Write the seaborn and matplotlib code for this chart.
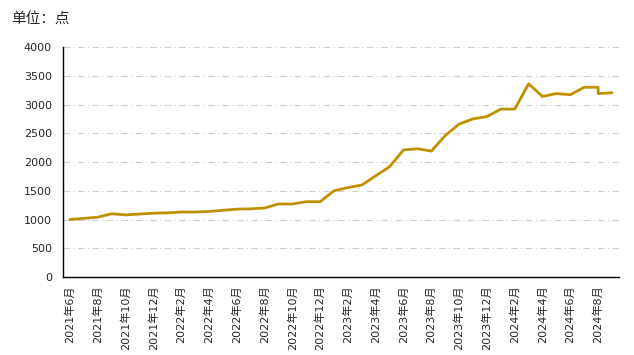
import matplotlib
matplotlib.use('Agg')
import matplotlib.pyplot as plt
import seaborn as sns
import numpy as np
import pandas as pd

# monthly index values (2024-08 has two readings)
months = ['2021-06', '2021-07', '2021-08', '2021-09', '2021-10', '2021-11', '2021-12',
          '2022-01', '2022-02', '2022-03', '2022-04', '2022-05', '2022-06', '2022-07',
          '2022-08', '2022-09', '2022-10', '2022-11', '2022-12', '2023-01', '2023-02',
          '2023-03', '2023-04', '2023-05', '2023-06', '2023-07', '2023-08', '2023-09',
          '2023-10', '2023-11', '2023-12', '2024-01', '2024-02', '2024-03', '2024-04',
          '2024-05', '2024-06', '2024-07', '2024-08', '2024-08', '2024-09']
values = [1000, 1020, 1040, 1100, 1080, 1095, 1110,
          1115, 1130, 1130, 1140, 1160, 1180, 1185,
          1200, 1270, 1270, 1310, 1310, 1500, 1555,
          1600, 1760, 1920, 2210, 2230, 2190, 2460,
          2660, 2750, 2790, 2920, 2920, 3360, 3140,
          3190, 3170, 3300, 3300, 3190, 3205]
yticks = [0, 500, 1000, 1500, 2000, 2500, 3000, 3500, 4000]

dates = pd.to_datetime(months)
df = pd.DataFrame({'m': (dates.year - 2021) * 12 + dates.month - 6, 'v': values})

sns.set_style('white')
plt.rcParams['font.family'] = ['DejaVu Sans', 'Noto Sans CJK SC']

fig = plt.figure(figsize=(6.34, 3.55), dpi=100)
ax = fig.add_axes([0.0994, 0.2197, 0.8769, 0.6479])

sns.lineplot(data=df, x='m', y='v', ax=ax, color='#BF9000', linewidth=2.0,
             estimator=None, sort=False)

n = int(df['m'].max()) + 1
lab_pos = np.arange(0, n, 2)
lab_txt = ['%d年%d月' % (2021 + (6 + p - 1) // 12, (6 + p - 1) % 12 + 1) for p in lab_pos]
ax.set_xticks(lab_pos)
ax.set_xticklabels(lab_txt, rotation=90, fontsize=8)
ax.set_xticks(np.arange(-0.5, n, 2), minor=True)
ax.tick_params(axis='x', which='major', length=0, pad=6)
ax.tick_params(axis='x', which='minor', length=5, width=1, color='black', direction='out')
ax.set_xlim(-0.5, n - 0.5)

ax.set_ylim(0, 4000)
ax.set_yticks(yticks)
ax.tick_params(axis='y', length=5, width=1, color='black', direction='out', labelsize=8, pad=3)
ax.yaxis.grid(True, color='#d0d0d0', linestyle=(0, (6, 3, 1, 3)), linewidth=0.8)
ax.set_axisbelow(True)

for s in ['top', 'right']:
    ax.spines[s].set_visible(False)
for s in ['left', 'bottom']:
    ax.spines[s].set_color('black')
    ax.spines[s].set_linewidth(1.0)

ax.set_xlabel('')
ax.set_ylabel('')
fig.text(0.018, 0.945, '单位：点', fontsize=10.5, va='center', ha='left')

fig.savefig('out.png', dpi=100)
